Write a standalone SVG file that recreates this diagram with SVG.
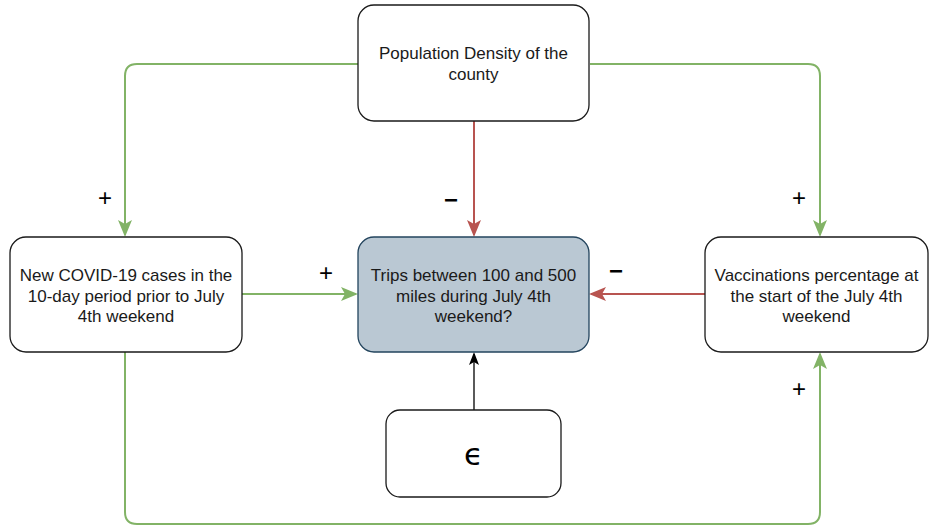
<svg xmlns="http://www.w3.org/2000/svg" width="929" height="527" viewBox="0 0 929 527">
<style>
.box{fill:#fff;stroke:#1a1a1a;stroke-width:1.3}
.main{fill:#bac8d3;stroke:#23445d;stroke-width:1.3}
.t{font-family:"Liberation Sans",Arial,sans-serif;font-size:17px;fill:#1a1a1a;text-anchor:middle}
.g{fill:none;stroke:#82b366;stroke-width:2}
.r{fill:none;stroke:#b85450;stroke-width:2}
.k{fill:none;stroke:#000;stroke-width:1.3}
.sign{font-family:"Liberation Sans",Arial,sans-serif;font-size:24px;fill:#000;text-anchor:middle}
.minus{font-weight:bold}
</style>
<g id="connectors">
<path class="g" d="M358,64 H137 Q125,64 125,76 V235"/>
<path class="g" d="M590,64 H808 Q820,64 820,76 V235"/>
<path class="r" d="M474,121 V235"/>
<path class="g" d="M242,294 H356"/>
<path class="r" d="M705,294 H591"/>
<path class="k" d="M474,410 V354"/>
<path class="g" d="M125,352 V512 Q125,524 137,524 H808 Q820,524 820,512 V354"/>
<path d="M118,220 L125,237 L132,220 L125,224 Z" fill="#82b366"/>
<path d="M813,220 L820,237 L827,220 L820,224 Z" fill="#82b366"/>
<path d="M467,220 L474,237 L481,220 L474,224 Z" fill="#b85450"/>
<path d="M341,287 L358,294 L341,301 L345,294 Z" fill="#82b366"/>
<path d="M606,287 L589,294 L606,301 L602,294 Z" fill="#b85450"/>
<path d="M813,369 L820,352 L827,369 L820,365 Z" fill="#82b366"/>
<path d="M469,365 L474,352 L479,365 L474,362 Z" fill="#000"/>
</g>
<g id="node-population">
<rect class="box" x="358" y="5" width="231" height="116" rx="16"/>
<text class="t" x="473.5" y="59">Population Density of the</text>
<text class="t" x="473.5" y="80">county</text>
</g>
<g id="node-covid">
<rect class="box" x="10" y="237" width="232" height="115" rx="16"/>
<text class="t" x="126" y="281">New COVID-19 cases in the</text>
<text class="t" x="126" y="301.5">10-day period prior to July</text>
<text class="t" x="126" y="322">4th weekend</text>
</g>
<g id="node-trips">
<rect class="main" x="358" y="237" width="231" height="115" rx="16"/>
<text class="t" x="473.5" y="281">Trips between 100 and 500</text>
<text class="t" x="473.5" y="301.5">miles during July 4th</text>
<text class="t" x="473.5" y="322">weekend?</text>
</g>
<g id="node-vaccinations">
<rect class="box" x="705" y="237" width="223" height="115" rx="16"/>
<text class="t" x="816.5" y="281">Vaccinations percentage at</text>
<text class="t" x="816.5" y="301.5">the start of the July 4th</text>
<text class="t" x="816.5" y="322">weekend</text>
</g>
<g id="node-epsilon">
<rect class="box" x="386" y="410" width="175" height="87" rx="14"/>
<text x="473.5" y="465" style="font-family:'DejaVu Sans',sans-serif;font-size:31px;fill:#000;text-anchor:middle">ϵ</text>
</g>
<g id="labels">
<text class="sign" x="105" y="206">+</text>
<text class="sign minus" x="451" y="208">−</text>
<text class="sign" x="799" y="206">+</text>
<text class="sign" x="326" y="281">+</text>
<text class="sign minus" x="616" y="279">−</text>
<text class="sign" x="799" y="397">+</text>
</g>
</svg>
